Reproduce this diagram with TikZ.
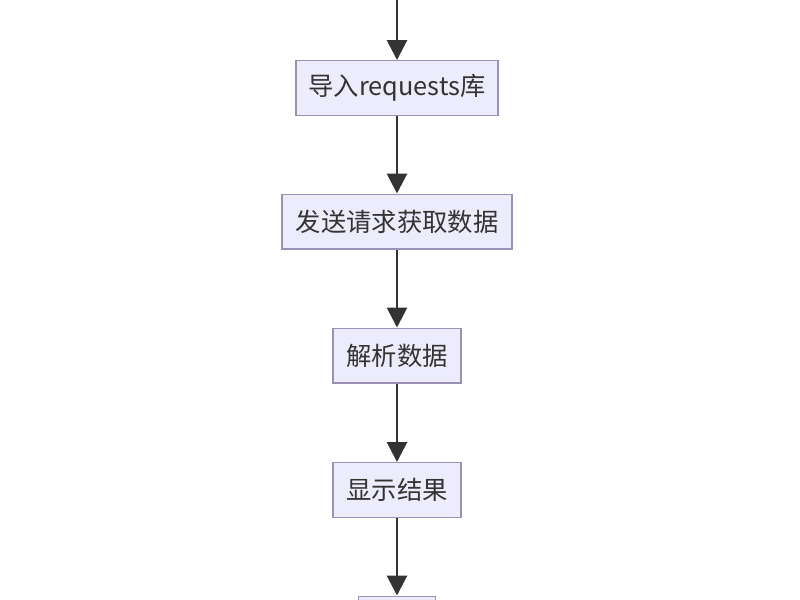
\documentclass[tikz,border=0pt]{standalone}
\usepackage{fontspec}
\setmainfont{Noto Sans CJK SC}
\usetikzlibrary{arrows.meta}
\definecolor{boxfill}{HTML}{ECECFC}
\definecolor{boxline}{HTML}{9A90B8}
\definecolor{ink}{HTML}{333333}
\tikzset{
  stepbox/.style={draw=boxline, fill=boxfill, line width=1pt, text=ink,
    font=\fontsize{19pt}{22pt}\selectfont, inner sep=0pt, minimum height=41pt},
  flow/.style={draw=ink, line width=2.2pt, -{Triangle[length=15pt,width=15pt]}}
}
\begin{document}
\begin{tikzpicture}[x=0.75pt,y=-0.75pt]
\useasboundingbox (0,0) rectangle (800,600);
\fill[white] (0,0) rectangle (800,600);
\clip (0,0) rectangle (800,600);
\coordinate (start) at (397,0);
\node[stepbox, minimum width=151.5pt] (b1) at (397,88) {导入requests库};
\node[stepbox, minimum width=172.5pt] (b2) at (397,221.5) {发送请求获取数据};
\node[stepbox, minimum width=96pt] (b3) at (397,355.5) {解析数据};
\node[stepbox, minimum width=96pt] (b4) at (397,490) {显示结果};
\node[stepbox, minimum width=58pt] (b5) at (397,623.5) {};
\draw[flow] (start) -- (b1);
\draw[flow] (b1) -- (b2);
\draw[flow] (b2) -- (b3);
\draw[flow] (b3) -- (b4);
\draw[flow] (b4) -- (b5);
\end{tikzpicture}
\end{document}
